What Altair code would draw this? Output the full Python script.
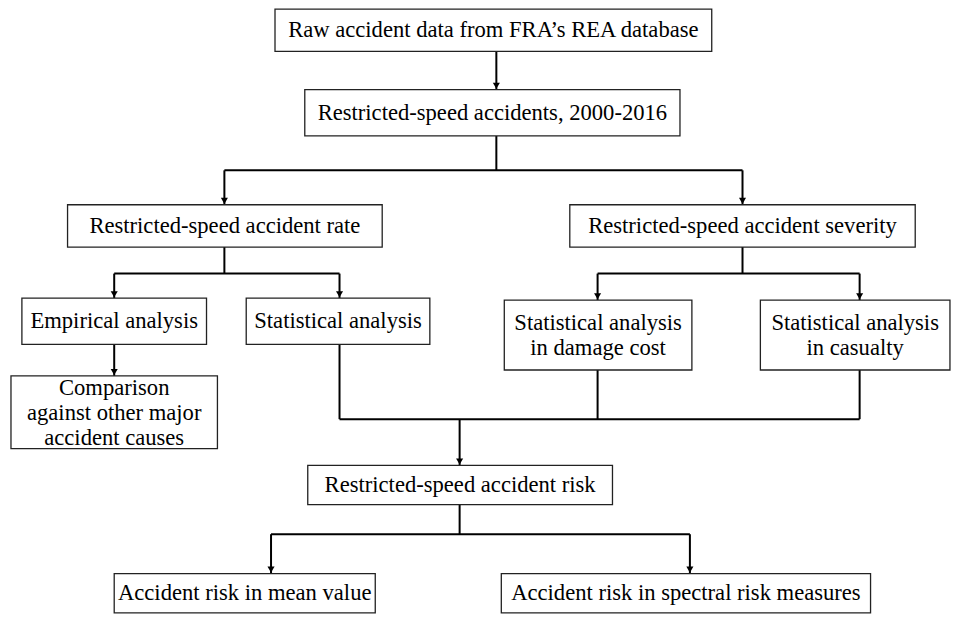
import altair as alt
import pandas as pd

# Boxes: label, left, right, top, bottom (picture pixels)
box_labels = [
    "Raw accident data from FRA’s REA database",
    "Restricted-speed accidents, 2000-2016",
    "Restricted-speed accident rate",
    "Restricted-speed accident severity",
    "Empirical analysis",
    "Statistical analysis",
    "Statistical analysis\nin damage cost",
    "Statistical analysis\nin casualty",
    "Comparison\nagainst other major\naccident causes",
    "Restricted-speed accident risk",
    "Accident risk in mean value",
    "Accident risk in spectral risk measures",
]
box_x1 = [277, 307, 68, 574, 22, 248, 508, 766, 11, 310, 115, 505]
box_x2 = [717, 685, 385, 922, 208, 433, 697, 957, 219, 617, 378, 877]
box_y1 = [6, 88, 205, 205, 300, 300, 302, 302, 379, 470, 580, 580]
box_y2 = [49, 135, 248, 248, 347, 347, 373, 373, 453, 510, 620, 620]

# Connector segments
seg_x1 = [500, 500, 226, 226, 748, 226, 115, 115, 342, 748, 602, 602, 866, 115, 342, 602, 866, 342, 463, 463, 273, 273, 695]
seg_y1 = [49, 135, 170, 170, 170, 248, 275, 275, 275, 248, 275, 275, 275, 347, 347, 373, 373, 423, 423, 510, 540, 540, 540]
seg_x2 = [500, 500, 748, 226, 748, 226, 342, 115, 342, 748, 866, 602, 866, 115, 342, 602, 866, 866, 463, 463, 695, 273, 695]
seg_y2 = [88, 170, 170, 205, 205, 275, 275, 300, 300, 275, 275, 302, 302, 379, 423, 423, 423, 423, 470, 540, 540, 580, 580]

# Arrow tips
tip_x = [500, 226, 748, 115, 342, 602, 866, 115, 463, 273, 695]
tip_y = [88, 205, 205, 300, 300, 302, 302, 379, 470, 580, 580]

LINE_H = 25

boxes = pd.DataFrame({
    "label": box_labels, "x1": box_x1, "x2": box_x2, "y1": box_y1, "y2": box_y2,
})
boxes["cx"] = (boxes["x1"] + boxes["x2"]) / 2
boxes["nl"] = boxes["label"].str.count("\n")
boxes["ty"] = (boxes["y1"] + boxes["y2"]) / 2 - boxes["nl"] * LINE_H / 2
segs = pd.DataFrame({"x1": seg_x1, "y1": seg_y1, "x2": seg_x2, "y2": seg_y2})
tips = pd.DataFrame({"x": tip_x, "y": tip_y})
tips["yc"] = tips["y"] - 4

xs = alt.Scale(domain=[8, 951], nice=False, zero=False)
ys = alt.Scale(domain=[8, 614], nice=False, zero=False, reverse=True)

X = lambda f: alt.X(f, type="quantitative", scale=xs, axis=None)
Y = lambda f: alt.Y(f, type="quantitative", scale=ys, axis=None)

lines = alt.Chart(segs).mark_rule(color="black", strokeWidth=2).encode(
    x=X("x1"), y=Y("y1"), x2="x2", y2="y2"
)
arrows = alt.Chart(tips).mark_point(
    shape="triangle-down", filled=True, color="black", size=50, opacity=1
).encode(x=X("x"), y=Y("yc"))
rects = alt.Chart(boxes).mark_rect(
    fill="white", stroke="#222222", strokeWidth=1.3
).encode(x=X("x1"), x2="x2", y=Y("y1"), y2="y2")
texts = alt.Chart(boxes).mark_text(
    font="Times New Roman, Liberation Serif, serif", fontSize=22.6, color="black",
    lineBreak="\n", lineHeight=LINE_H, align="center", baseline="middle"
).encode(x=X("cx"), y=Y("ty"), text="label:N")

chart = alt.layer(lines, arrows, rects, texts).properties(
    width=943, height=606, padding=0,
    autosize=alt.AutoSizeParams(type="fit", contains="padding"),
    background="white",
).configure_view(stroke=None)

chart.save("out.html", embed_options={"renderer": "svg", "actions": False})
